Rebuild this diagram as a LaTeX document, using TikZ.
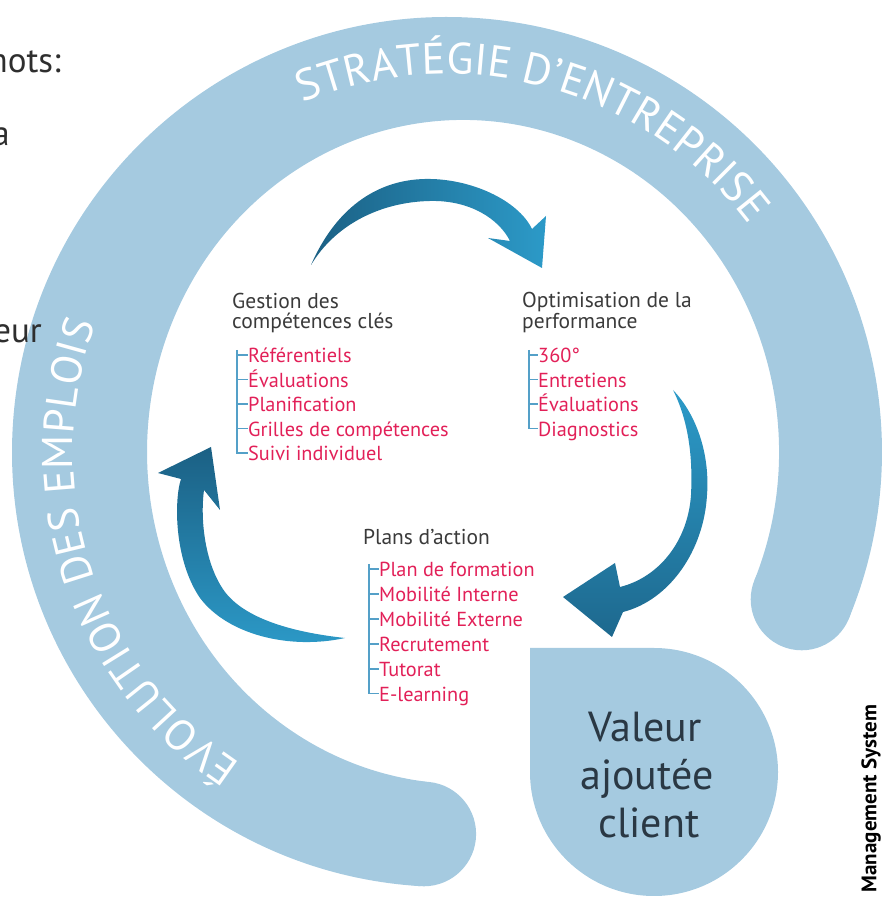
\documentclass[tikz,border=0pt]{standalone}
\usepackage{fontspec}
\setmainfont{PT Sans}
\usetikzlibrary{calc,decorations.text}
\definecolor{ringblue}{RGB}{165,202,224}
\definecolor{headgray}{RGB}{58,58,58}
\definecolor{itemred}{RGB}{226,32,88}
\definecolor{treeblue}{RGB}{84,160,200}
\definecolor{valtext}{RGB}{42,56,68}
\definecolor{arrowdark}{RGB}{27,96,132}
\definecolor{arrowlight}{RGB}{44,154,200}
\newcommand\arcfont{\fontsize{44}{44}\selectfont}
\newcommand\arcfontb{\fontsize{43}{43}\selectfont}
\begin{document}
\begin{tikzpicture}[x=1pt,y=1pt,
  headtxt/.style={anchor=base west, inner sep=0pt, font=\fontsize{21.5}{23}\selectfont, text=headgray},
  itemtxt/.style={anchor=base west, inner sep=0pt, font=\fontsize{20.3}{22}\selectfont, text=itemred, text height=16pt, text depth=0pt},
  treeline/.style={draw=treeblue, line width=1.1pt},
  ringfill/.style={fill=ringblue},
  cuttxt/.style={anchor=base east, inner sep=0pt, font=\fontsize{35}{37}\selectfont, text=black!82},
  valtxt/.style={anchor=base, inner sep=0pt, font=\fontsize{42}{48}\selectfont, text=valtext},
]
\useasboundingbox (0,0) rectangle (883,899);
\clip (0,0) rectangle (883,899);
\coordinate (O) at (447,447);
\coordinate (E) at (463,447);

% ring band
\path[ringfill] ($(O)+(-93.5:435)$) arc[start angle=-93.5, end angle=-382.5, radius=435]
  -- ($(E)+(-22.7:316 and 332)$) arc[start angle=-382.7, end angle=-96.5, x radius=316, y radius=332] -- cycle;
\path[ringfill] (801.7,299.7) circle[radius=51];
\path[ringfill] (423.8,65) circle[radius=52.3];

% ring texts
\path[decorate, decoration={text along path, text color=white,
  text={|\arcfont|STRATÉGIE D’ENTREPRISE}, text align={fit to path}}]
  ($(O)+(112.5:378)$) arc[start angle=112.5, end angle=38.5, radius=378];
\path[decorate, decoration={text along path, text color=white,
  text={|\arcfontb|ÉVOLUTION DES EMPLOIS}, text align={fit to path}}]
  ($(O)+(236.5:374)$) arc[start angle=236.5, end angle=160, radius=374];

% value drop
\path[ringfill] (530,251) -- (654,251) arc[start angle=90, end angle=-180, radius=124] -- cycle;
\node[valtxt] (v1) at (645,157) {Valeur};
\node[valtxt] (v2) at (647,109) {ajoutée};
\node[valtxt] (v3) at (649,61) {client};

% arrows
\path[left color=arrowdark, right color=arrowlight]
  (311,634) .. controls (335,689) and (375,719) .. (425,720)
  .. controls (470,721) and (518,699) .. (532,670) -- (546,683) -- (542,631) -- (488,661) -- (510,658)
  .. controls (499,680) and (470,699) .. (430,698) .. controls (380,697) and (335,674) .. cycle;
\path[top color=arrowlight, bottom color=arrowdark!85!arrowlight]
  (673,509) .. controls (697,484) and (710,444) .. (707,404)
  .. controls (704,349) and (670,299) .. (623,287) -- (612,262) -- (563,302) -- (615,336) -- (620,312)
  .. controls (660,322) and (688,359) .. (691,404) .. controls (693,444) and (688,479) .. cycle;
\path[top color=arrowdark, bottom color=arrowlight]
  (345,261) .. controls (290,249) and (228,264) .. (200,301)
  .. controls (174,339) and (174,399) .. (181,420) -- (158,426) -- (211,452) -- (220,389) -- (204,409)
  .. controls (200,379) and (205,334) .. (225,307) .. controls (245,281) and (290,267) .. cycle;

% Gestion des compétences clés
\node[headtxt] (g1) at (232,590) {Gestion des};
\node[headtxt] (g2) at (232,570) {compétences clés};
\node[itemtxt] (ga) at (248,536) {Référentiels};
\node[itemtxt] (gb) at (248,511.5) {Évaluations};
\node[itemtxt] (gc) at (248,487) {Planification};
\node[itemtxt] (gd) at (248,462.5) {Grilles de compétences};
\node[itemtxt] (ge) at (248,438) {Suivi individuel};
\draw[treeline] ($(ga.west)+(-11,5)$) -- ($(ge.west)+(-11,0)$) -- (ge.west);
\foreach \n in {ga,gb,gc,gd} \draw[treeline] ($(\n.west)+(-11,0)$) -- (\n.west);

% Optimisation de la performance
\node[headtxt] (o1) at (522,591) {Optimisation de la};
\node[headtxt] (o2) at (522,570) {performance};
\node[itemtxt] (oa) at (538,536) {360°};
\node[itemtxt] (ob) at (538,511.5) {Entretiens};
\node[itemtxt] (oc) at (538,487) {Évaluations};
\node[itemtxt] (od) at (538,462.5) {Diagnostics};
\draw[treeline] ($(oa.west)+(-9,5)$) -- ($(od.west)+(-9,0)$) -- (od.west);
\foreach \n in {oa,ob,oc} \draw[treeline] ($(\n.west)+(-9,0)$) -- (\n.west);

% Plans d'action
\node[headtxt] (p0) at (363,354) {Plans d’action};
\node[itemtxt] (pa) at (379,322) {Plan de formation};
\node[itemtxt] (pb) at (379,297) {Mobilité Interne};
\node[itemtxt] (pc) at (379,272) {Mobilité Externe};
\node[itemtxt] (pd) at (379,247) {Recrutement};
\node[itemtxt] (pe) at (379,222) {Tutorat};
\node[itemtxt] (pf) at (379,197.5) {E-learning};
\draw[treeline] ($(pa.west)+(-10,5)$) -- ($(pf.west)+(-10,0)$) -- (pf.west);
\foreach \n in {pa,pb,pc,pd,pe} \draw[treeline] ($(\n.west)+(-10,0)$) -- (\n.west);

% cut-off texts at the left edge
\node[cuttxt] (t1) at (61,826) {mots:};
\node[cuttxt] (t2) at (10,753) {a};
\node[cuttxt] (t3) at (42,556) {eur};

% side label
\node[rotate=90, inner sep=0pt, font=\bfseries\fontsize{21}{21}\selectfont] (ms) at (871,100.5) {Management System};
\end{tikzpicture}
\end{document}
